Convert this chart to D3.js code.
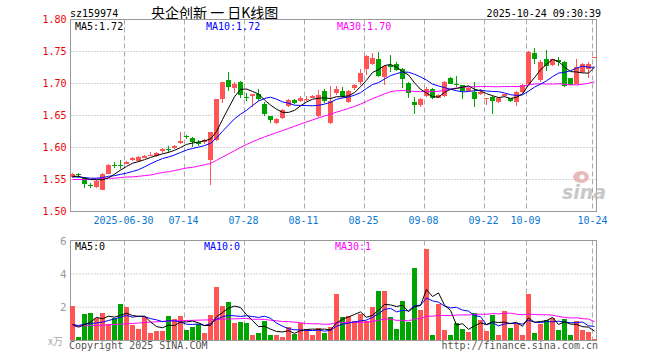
<!DOCTYPE html>
<html>
<head>
<meta charset="utf-8">
<script src="https://cdn.jsdelivr.net/npm/d3@7"></script>
<style>
  body { margin: 0; background: #fff; }
  svg text { font-family: "DejaVu Sans Mono", monospace; font-size: 10px; }
</style>
</head>
<body>
<script>
// ---------------- data ----------------
const dates = [
  "2025-06-17","2025-06-18","2025-06-19","2025-06-20","2025-06-23","2025-06-24","2025-06-25","2025-06-26","2025-06-27","2025-06-30",
  "2025-07-01","2025-07-02","2025-07-03","2025-07-04","2025-07-07","2025-07-08","2025-07-09","2025-07-10","2025-07-11","2025-07-14",
  "2025-07-15","2025-07-16","2025-07-17","2025-07-18","2025-07-21","2025-07-22","2025-07-23","2025-07-24","2025-07-25","2025-07-28",
  "2025-07-29","2025-07-30","2025-07-31","2025-08-01","2025-08-04","2025-08-05","2025-08-06","2025-08-07","2025-08-08","2025-08-11",
  "2025-08-12","2025-08-13","2025-08-14","2025-08-15","2025-08-18","2025-08-19","2025-08-20","2025-08-21","2025-08-22","2025-08-25",
  "2025-08-26","2025-08-27","2025-08-28","2025-08-29","2025-09-01","2025-09-02","2025-09-03","2025-09-04","2025-09-05","2025-09-08",
  "2025-09-09","2025-09-10","2025-09-11","2025-09-12","2025-09-15","2025-09-16","2025-09-17","2025-09-18","2025-09-19","2025-09-22",
  "2025-09-23","2025-09-24","2025-09-25","2025-09-26","2025-09-29","2025-09-30","2025-10-09","2025-10-10","2025-10-13","2025-10-14",
  "2025-10-15","2025-10-16","2025-10-17","2025-10-20","2025-10-21","2025-10-22","2025-10-23","2025-10-24"];

const open = [
  1.554,1.559,1.553,1.542,1.538,1.534,1.559,1.573,1.573,1.575,
  1.580,1.579,1.584,1.587,1.586,1.594,1.598,1.599,1.607,1.618,
  1.615,1.609,1.608,1.581,1.612,1.675,1.706,1.693,1.703,1.679,
  1.680,1.684,1.668,1.649,1.638,1.646,1.665,1.674,1.672,1.674,
  1.678,1.649,1.688,1.639,1.685,1.689,1.671,1.693,1.702,1.723,
  1.731,1.739,1.710,1.729,1.731,1.722,1.701,1.671,1.666,1.680,
  1.692,1.678,1.680,1.708,1.700,1.697,1.689,1.687,1.683,1.676,
  1.679,1.671,1.680,1.677,1.671,1.686,1.700,1.748,1.705,1.739,
  1.729,1.737,1.734,1.708,1.700,1.718,1.723,1.740];
const high = [
  1.560,1.560,1.554,1.544,1.549,1.560,1.574,1.578,1.580,1.579,
  1.585,1.586,1.589,1.593,1.593,1.599,1.603,1.604,1.624,1.620,
  1.616,1.611,1.613,1.625,1.676,1.703,1.718,1.702,1.704,1.685,
  1.684,1.692,1.671,1.650,1.646,1.660,1.675,1.676,1.681,1.681,
  1.682,1.690,1.691,1.696,1.696,1.694,1.690,1.700,1.723,1.745,
  1.748,1.749,1.729,1.745,1.733,1.724,1.702,1.679,1.677,1.694,
  1.693,1.684,1.704,1.710,1.712,1.698,1.694,1.703,1.691,1.678,
  1.680,1.679,1.684,1.678,1.688,1.699,1.751,1.756,1.736,1.753,
  1.739,1.741,1.735,1.709,1.739,1.732,1.733,1.742];
const low = [
  1.552,1.553,1.537,1.537,1.536,1.533,1.558,1.568,1.567,1.574,
  1.579,1.578,1.583,1.586,1.585,1.592,1.591,1.598,1.606,1.613,
  1.601,1.603,1.606,1.542,1.610,1.670,1.688,1.685,1.677,1.672,
  1.664,1.673,1.650,1.639,1.637,1.645,1.664,1.668,1.671,1.673,
  1.677,1.647,1.670,1.636,1.682,1.677,1.669,1.690,1.698,1.714,
  1.729,1.710,1.698,1.718,1.719,1.693,1.678,1.652,1.663,1.679,
  1.675,1.677,1.679,1.699,1.694,1.675,1.688,1.663,1.682,1.667,
  1.653,1.669,1.679,1.671,1.665,1.685,1.699,1.731,1.703,1.719,
  1.727,1.727,1.695,1.697,1.699,1.716,1.708,1.740];
const close = [
  1.559,1.557,1.543,1.541,1.548,1.559,1.572,1.572,1.572,1.577,
  1.584,1.585,1.587,1.589,1.592,1.597,1.597,1.603,1.610,1.617,
  1.608,1.605,1.612,1.624,1.675,1.702,1.695,1.700,1.682,1.678,
  1.683,1.675,1.653,1.643,1.645,1.659,1.674,1.669,1.678,1.676,
  1.680,1.682,1.672,1.672,1.691,1.680,1.689,1.697,1.717,1.743,
  1.740,1.712,1.728,1.726,1.721,1.707,1.685,1.666,1.676,1.692,
  1.678,1.682,1.703,1.700,1.698,1.688,1.693,1.676,1.687,1.677,
  1.672,1.678,1.683,1.673,1.686,1.698,1.750,1.739,1.734,1.728,
  1.738,1.733,1.696,1.698,1.725,1.731,1.731,1.742];

// price moving averages as drawn on the chart
const ma5 = [
  1.555,1.555,1.552,1.550,1.5496,1.5496,1.5526,1.5584,1.5646,1.5704,
  1.5754,1.578,1.581,1.5844,1.5874,1.590,1.5924,1.5956,1.5998,1.6048,
  1.607,1.6086,1.6104,1.6132,1.6248,1.6436,1.6616,1.6792,1.6908,1.6914,
  1.6876,1.6836,1.6742,1.6664,1.6598,1.655,1.6548,1.658,1.665,1.6712,
  1.6754,1.677,1.6776,1.6764,1.6794,1.6794,1.6808,1.6858,1.6948,1.7052,
  1.7172,1.7218,1.728,1.7298,1.7254,1.7188,1.7134,1.701,1.691,1.6852,
  1.6794,1.6788,1.6862,1.691,1.6922,1.6942,1.6964,1.691,1.6884,1.6842,
  1.681,1.678,1.6794,1.6766,1.6784,1.6836,1.698,1.7092,1.7214,1.7298,
  1.7378,1.7344,1.7258,1.7186,1.718,1.7166,1.7162,1.7254];
const ma10 = [
  1.554,1.554,1.553,1.552,1.552,1.553,1.555,1.556,1.558,1.560,
  1.5625,1.5653,1.5697,1.5745,1.5789,1.5827,1.5852,1.5883,1.5921,1.5961,
  1.5985,1.6005,1.603,1.6065,1.6148,1.6253,1.6351,1.6448,1.652,1.6581,
  1.6656,1.6726,1.6767,1.6786,1.6756,1.6713,1.6692,1.6661,1.6657,1.6655,
  1.6652,1.6659,1.6678,1.6707,1.6753,1.6774,1.6789,1.6817,1.6856,1.6923,
  1.6983,1.7013,1.7069,1.7123,1.7153,1.718,1.7176,1.7145,1.7104,1.7053,
  1.6991,1.6961,1.6936,1.691,1.6887,1.6868,1.6876,1.6886,1.6897,1.6882,
  1.6876,1.6872,1.6852,1.6825,1.6813,1.6823,1.688,1.6943,1.699,1.7041,
  1.7107,1.7162,1.7175,1.72,1.7239,1.7272,1.7253,1.7256];
const ma30 = [
  1.550,1.550,1.550,1.550,1.551,1.551,1.552,1.552,1.553,1.554,
  1.554,1.555,1.556,1.557,1.559,1.561,1.562,1.564,1.566,1.568,
  1.569,1.571,1.573,1.575,1.580,1.585,1.590,1.595,1.600,1.6047,
  1.6089,1.6128,1.6165,1.6199,1.6231,1.6264,1.6298,1.6331,1.6366,1.6399,
  1.6431,1.6463,1.6492,1.6519,1.6552,1.658,1.6611,1.6642,1.6678,1.672,
  1.6764,1.6799,1.6838,1.6872,1.6887,1.6889,1.6886,1.6874,1.6872,1.6877,
  1.6875,1.6878,1.6894,1.6913,1.6931,1.6941,1.6947,1.6949,1.6952,1.6953,
  1.695,1.6949,1.6952,1.6953,1.6951,1.6957,1.6977,1.6991,1.6997,1.6992,
  1.6991,1.6998,1.6988,1.6978,1.698,1.6988,1.7003,1.7028];

// volume (x万) and its averages
const volume = [
  2.10,0.20,1.62,1.68,1.34,1.68,0.98,1.34,2.22,2.00,
  0.96,0.72,1.42,0.48,0.60,0.60,1.50,1.32,1.50,0.66,
  0.84,1.00,0.48,1.56,3.24,2.10,2.34,1.08,1.14,1.08,
  0.36,0.48,1.20,0.30,0.36,0.24,0.84,0.42,1.08,0.72,
  0.36,0.78,0.48,0.84,2.82,1.44,1.50,1.20,1.62,1.20,
  2.04,3.00,3.00,1.44,0.72,2.40,1.14,4.38,1.86,5.52,
  0.30,2.22,0.66,0.36,1.08,0.72,0.54,1.68,1.26,0.60,
  1.56,0.30,1.80,0.78,1.02,0.36,2.82,0.48,1.02,1.26,
  1.38,0.66,1.32,0.30,1.20,0.66,0.54,0.12];
const volMa5 = [
  0.96,0.80,0.95,1.10,1.388,1.304,1.46,1.404,1.512,1.644,
  1.50,1.448,1.464,1.116,0.836,0.764,0.92,0.90,1.104,1.116,
  1.164,1.064,0.896,0.908,1.424,1.676,1.944,2.064,1.98,1.548,
  1.20,0.828,0.852,0.684,0.54,0.516,0.588,0.432,0.588,0.66,
  0.684,0.672,0.684,0.636,1.056,1.272,1.416,1.56,1.716,1.392,
  1.512,1.812,2.172,2.136,2.04,2.112,1.74,2.016,2.10,3.06,
  2.64,2.856,2.112,1.812,0.924,1.008,0.672,0.876,1.056,0.96,
  1.128,1.08,1.104,1.008,1.092,0.852,1.356,1.092,1.14,1.188,
  1.392,0.96,1.128,0.984,0.972,0.828,0.804,0.564];
const volMa10 = [
  0.96,0.90,0.98,1.02,1.05,1.10,1.20,1.30,1.40,1.516,
  1.402,1.454,1.434,1.314,1.24,1.132,1.184,1.182,1.11,0.976,
  0.964,0.992,0.898,1.006,1.27,1.42,1.504,1.48,1.444,1.486,
  1.438,1.386,1.458,1.332,1.044,0.858,0.708,0.642,0.636,0.60,
  0.60,0.63,0.558,0.612,0.858,0.978,1.044,1.122,1.176,1.224,
  1.392,1.614,1.866,1.926,1.716,1.812,1.776,2.094,2.118,2.55,
  2.376,2.298,2.064,1.956,1.992,1.824,1.764,1.494,1.434,0.942,
  1.068,0.876,0.99,1.032,1.026,0.99,1.218,1.098,1.074,1.14,
  1.122,1.158,1.11,1.062,1.08,1.11,0.882,0.846];
const volMa30 = [
  0.86,0.87,0.88,0.89,0.90,0.92,0.94,0.96,0.98,1.00,
  1.02,1.05,1.08,1.10,1.12,1.14,1.16,1.18,1.19,1.20,
  1.21,1.22,1.23,1.24,1.26,1.28,1.29,1.30,1.31,1.326,
  1.268,1.277,1.263,1.217,1.185,1.137,1.132,1.101,1.063,1.021,
  1.001,1.003,0.971,0.983,1.057,1.085,1.085,1.081,1.085,1.103,
  1.143,1.21,1.294,1.29,1.206,1.216,1.176,1.286,1.31,1.458,
  1.456,1.514,1.496,1.498,1.522,1.538,1.528,1.57,1.576,1.572,
  1.612,1.596,1.64,1.638,1.578,1.542,1.586,1.562,1.542,1.544,
  1.522,1.444,1.388,1.35,1.366,1.308,1.288,1.126];

const priceTicks = [1.50, 1.55, 1.60, 1.65, 1.70, 1.75, 1.80];
const volTicks = [2, 4, 6];
const dateTicks = ["2025-06-30","2025-07-14","2025-07-28","2025-08-11","2025-08-25","2025-09-08","2025-09-22","2025-10-09","2025-10-24"];
const dateTickLabels = ["2025-06-30","07-14","07-28","08-11","08-25","09-08","09-22","10-09","10-24"];
const priceMaText = ["MA5:1.72", "MA10:1.72", "MA30:1.70"];
const volMaText = ["MA5:0", "MA10:0", "MA30:1"];

// ---------------- drawing ----------------
const red = "#ff5555", green = "#00a400";
const maColors = ["#000000", "#0000ff", "#ff00ff"];
const L = 70.5, R = 596.5;

const svg = d3.select("body").append("svg")
    .attr("width", 660)
    .attr("height", 360);

const x = d3.scaleBand()
    .domain(dates)
    .range([70, 597])
    .paddingInner(1 / 6)
    .paddingOuter(0);
const yP = d3.scaleLinear().domain([1.50, 1.80]).range([211.5, 19.5]);
const yV = d3.scaleLinear().domain([0, 6]).range([340.5, 240.5]);

// header
svg.append("text").attr("x", 70).attr("y", 17).text("sz159974");
svg.append("text").attr("x", 151).attr("y", 18)
    .style("font-family", "'Noto Sans CJK SC', sans-serif").style("font-size", "14px")
    .text("央企创新 一 日K线图");
svg.append("text").attr("x", 601).attr("y", 17).attr("text-anchor", "end").text("2025-10-24 09:30:39");

// grid
function hGrid(vals, y) {
    svg.append("g").selectAll("line")
        .data(vals).join("line")
        .attr("x1", L).attr("x2", R)
        .attr("y1", d => y(d)).attr("y2", d => y(d))
        .attr("stroke", "#aaa").attr("stroke-dasharray", "1,2");
}
hGrid(priceTicks.slice(1, -1), yP);
hGrid([2, 4], yV);

[[19.5, 211.5], [240.5, 340.5]].forEach(([t, b]) => {
    svg.append("g").selectAll("line")
        .data(dateTicks).join("line")
        .attr("x1", d => x(d) + 0.5).attr("x2", d => x(d) + 0.5)
        .attr("y1", t).attr("y2", b)
        .attr("stroke", "#aaa").attr("stroke-dasharray", "5,3");
});

// borders
svg.append("rect").attr("x", L).attr("y", 19.5).attr("width", R - L).attr("height", 192)
    .attr("fill", "none").attr("stroke", "#999");
svg.append("rect").attr("x", L).attr("y", 240.5).attr("width", R - L).attr("height", 100)
    .attr("fill", "none").attr("stroke", "#999");

// sina watermark (behind the marks)
const wm = svg.append("g").attr("opacity", 0.8);
wm.append("ellipse").attr("cx", 581).attr("cy", 177).attr("rx", 8).attr("ry", 6).attr("fill", "#e3a9a9");
wm.append("circle").attr("cx", 582).attr("cy", 177).attr("r", 2.5).attr("fill", "#fff");
wm.append("text").attr("x", 562).attr("y", 199)
    .style("font-family", "'DejaVu Sans', sans-serif").style("font-size", "19px")
    .style("font-style", "italic").style("font-weight", "bold")
    .attr("fill", "#bbb").text("sina");

// axes
const yAxis = svg.append("g")
    .attr("transform", "translate(70.5,0)")
    .call(d3.axisLeft(yP).tickValues(priceTicks).tickFormat(d3.format(".2f")).tickSize(0).tickPadding(4));
yAxis.select(".domain").remove();
yAxis.selectAll("text").attr("fill", "#ee0000")
    .style("font-family", "'DejaVu Sans Mono', monospace").style("font-size", "10px");

const vAxis = svg.append("g")
    .attr("transform", "translate(70.5,0)")
    .call(d3.axisLeft(yV).tickValues(volTicks).tickFormat(d3.format("d")).tickSize(0).tickPadding(4));
vAxis.select(".domain").remove();
vAxis.selectAll("text").attr("fill", "#999")
    .style("font-family", "'DejaVu Sans Mono', monospace").style("font-size", "11px");
svg.append("text").attr("x", 48).attr("y", 345).attr("fill", "#aaa")
    .style("font-family", "'Noto Sans CJK SC', serif").style("font-size", "10px").text("x万");

const xAxis = svg.append("g")
    .attr("transform", "translate(-3,211.5)")
    .call(d3.axisBottom(x).tickValues(dateTicks).tickFormat((d, i) => dateTickLabels[i]).tickSize(0).tickPadding(5));
xAxis.select(".domain").remove();
xAxis.selectAll("text").attr("fill", "#0a78d0")
    .style("font-family", "'DejaVu Sans Mono', monospace").style("font-size", "10px");
xAxis.selectAll(".tick:last-of-type text").attr("text-anchor", "end").attr("x", 16);

// candles
const cx = d => x(d) + 2;
const candle = svg.append("g").selectAll("g").data(dates).join("g")
    .attr("fill", (d, i) => close[i] >= open[i] ? red : green);
candle.append("rect")
    .attr("x", cx).attr("width", 1)
    .attr("y", (d, i) => Math.round(yP(high[i])))
    .attr("height", (d, i) => Math.max(1, Math.round(yP(low[i])) - Math.round(yP(high[i]))));
candle.append("rect")
    .attr("x", d => x(d)).attr("width", x.bandwidth())
    .attr("y", (d, i) => Math.round(yP(Math.max(open[i], close[i]))))
    .attr("height", (d, i) => Math.max(1, Math.round(yP(Math.min(open[i], close[i]))) - Math.round(yP(Math.max(open[i], close[i])))));

// volume bars
svg.append("g").selectAll("rect").data(dates).join("rect")
    .attr("x", d => x(d)).attr("width", x.bandwidth())
    .attr("y", (d, i) => Math.round(yV(volume[i])))
    .attr("height", (d, i) => 340 - Math.round(yV(volume[i])))
    .attr("fill", (d, i) => close[i] >= open[i] ? red : green);

// moving average lines
function maLine(values, y, color) {
    const line = d3.line()
        .x((d, i) => x(dates[i]) + 2.5)
        .y(d => y(d));
    svg.append("path").datum(values)
        .attr("d", line)
        .attr("fill", "none")
        .attr("stroke", color)
        .attr("stroke-width", 1);
}
[ma30, ma10, ma5].forEach((m, k) => maLine(m, yP, maColors[2 - k]));
[volMa30, volMa10, volMa5].forEach((m, k) => maLine(m, yV, maColors[2 - k]));

// MA legends
const maX = [75, 206, 337];
priceMaText.forEach((t, k) => svg.append("text").attr("x", maX[k]).attr("y", 30).attr("fill", maColors[k]).text(t));
const volMaX = [75, 204, 335];
volMaText.forEach((t, k) => svg.append("text").attr("x", volMaX[k]).attr("y", 250).attr("fill", maColors[k]).text(t));

// footer
svg.append("text").attr("x", 69).attr("y", 349).attr("fill", "#555").text("Copyright 2025 SINA.COM");
svg.append("text").attr("x", 598).attr("y", 349).attr("text-anchor", "end").attr("fill", "#555").text("http://finance.sina.com.cn");
</script>
</body>
</html>
